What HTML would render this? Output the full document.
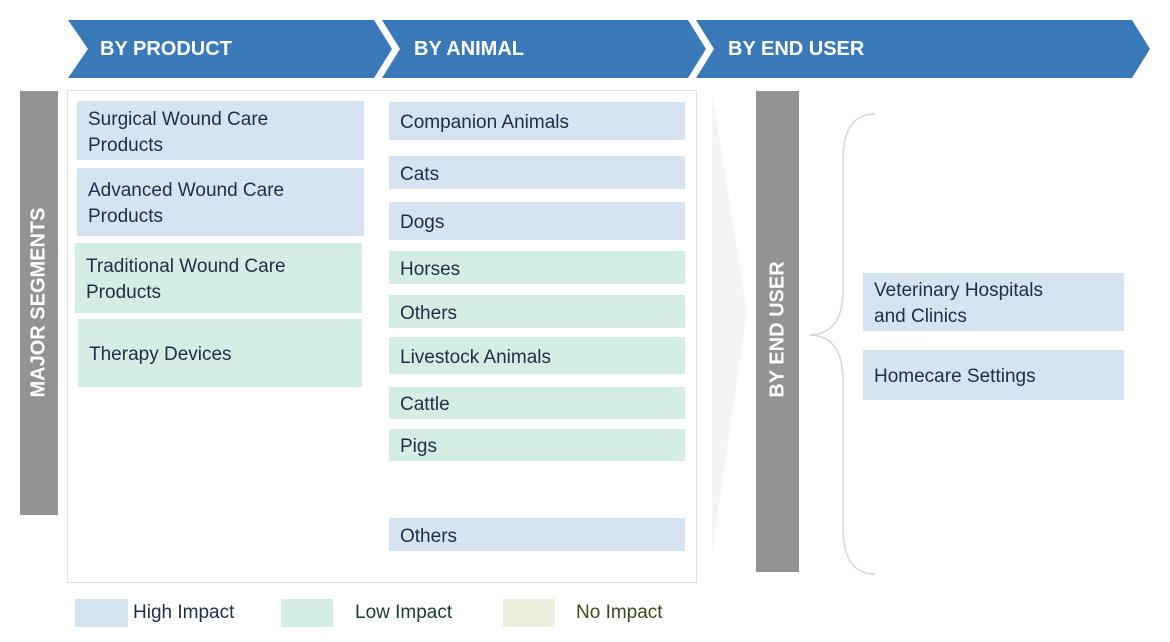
<!DOCTYPE html>
<html><head><style>
body{margin:0;width:1170px;height:642px;background:#fff;position:relative;overflow:hidden;font-family:"Liberation Sans",sans-serif}
.b{position:absolute;box-sizing:border-box;color:#1c2f45;font-size:19px;line-height:26px;padding-left:11px;padding-top:4px;display:flex;align-items:center}
.h{background:#d6e4f1}.l{background:#d5eee5}
.t{position:absolute;color:#fff;font-weight:bold;font-size:20px}
.g{position:absolute;background:#939393}
.v{position:absolute;color:#fff;font-weight:bold;font-size:20px;transform:rotate(-90deg);white-space:nowrap;transform-origin:center}
.lg{position:absolute;font-size:19px;top:602px}
</style></head><body>
<svg width="1170" height="642" style="position:absolute;left:0;top:0">
<polygon points="68,20 374,20 392,49 374,78 68,78 88,49" fill="#3a79b8"/>
<polygon points="382,20 688,20 706,49 688,78 382,78 400,49" fill="#3a79b8"/>
<polygon points="696,20 1132,20 1150,49 1132,78 696,78 714,49" fill="#3a79b8"/>
<rect x="67.5" y="90.5" width="629" height="492" fill="none" stroke="#e0e0e0"/>
<polygon points="712,92 747,312 712,552" fill="#f4f4f4"/>
<path d="M875,114 Q843,114 843,160 L843,290 Q843,334 810,335 Q843,336 843,380 L843,528 Q843,574 875,574" fill="none" stroke="#d8d8d8" stroke-width="1.5"/>
</svg>
<div class="t" style="left:100px;top:38px">BY PRODUCT</div>
<div class="t" style="left:414px;top:38px">BY ANIMAL</div>
<div class="t" style="left:728px;top:38px">BY END USER</div>
<div class="g" style="left:20px;top:91px;width:38px;height:424px"></div>
<div class="v" style="left:-61px;top:291px;width:200px;text-align:center">MAJOR SEGMENTS</div>
<div class="g" style="left:756px;top:91px;width:43px;height:481px"></div>
<div class="v" style="left:678px;top:318px;width:200px;text-align:center">BY END USER</div>
<div class="b h" style="left:77px;top:101px;width:287px;height:59px">Surgical Wound Care<br>Products</div>
<div class="b h" style="left:77px;top:168px;width:287px;height:68px">Advanced Wound Care<br>Products</div>
<div class="b l" style="left:75px;top:243px;width:287px;height:70px">Traditional Wound Care<br>Products</div>
<div class="b l" style="left:78px;top:319px;width:284px;height:68px">Therapy Devices</div>
<div class="b h" style="left:389px;top:102px;width:296px;height:38px">Companion Animals</div>
<div class="b h" style="left:389px;top:156px;width:296px;height:33px">Cats</div>
<div class="b h" style="left:389px;top:202px;width:296px;height:38px">Dogs</div>
<div class="b l" style="left:389px;top:251px;width:296px;height:33px">Horses</div>
<div class="b l" style="left:389px;top:295px;width:296px;height:33px">Others</div>
<div class="b l" style="left:389px;top:337px;width:296px;height:37px">Livestock Animals</div>
<div class="b l" style="left:389px;top:387px;width:296px;height:32px">Cattle</div>
<div class="b l" style="left:389px;top:429px;width:296px;height:32px">Pigs</div>
<div class="b h" style="left:389px;top:518px;width:296px;height:33px">Others</div>
<div class="b h" style="left:863px;top:273px;width:261px;height:58px">Veterinary Hospitals<br>and Clinics</div>
<div class="b h" style="left:863px;top:350px;width:261px;height:50px">Homecare Settings</div>
<div style="position:absolute;left:75px;top:599px;width:53px;height:28px;background:#d6e4f1"></div>
<div style="position:absolute;left:281px;top:599px;width:52px;height:28px;background:#d5eee5"></div>
<div style="position:absolute;left:503px;top:599px;width:52px;height:28px;background:#ebefdc"></div>
<div class="lg" style="left:133px;color:#1c2f45">High Impact</div>
<div class="lg" style="left:355px;color:#1c3a30">Low Impact</div>
<div class="lg" style="left:576px;color:#3a4a1c">No Impact</div>
</body></html>
